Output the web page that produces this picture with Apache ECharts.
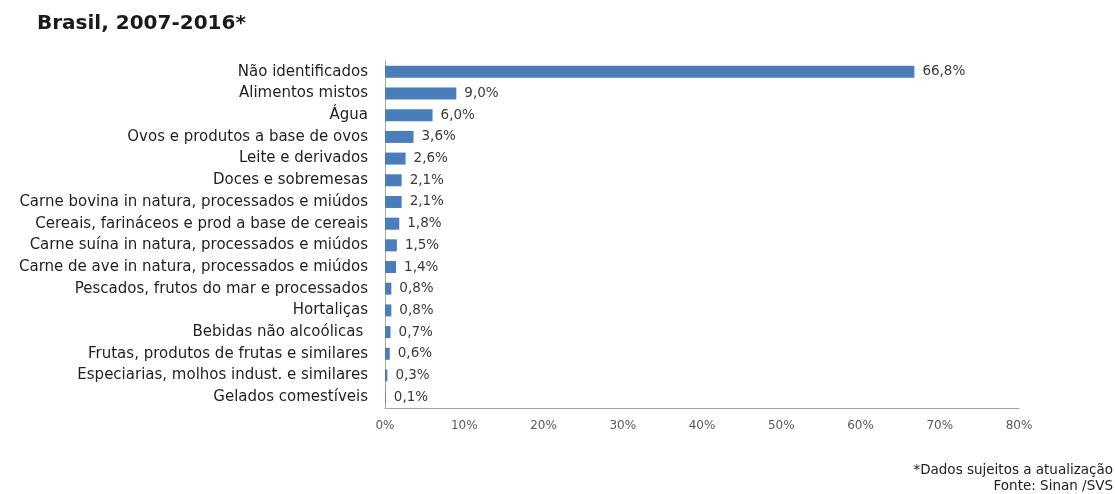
<!DOCTYPE html>
<html>
<head>
<meta charset="utf-8">
<script src="https://cdn.jsdelivr.net/npm/echarts@6/dist/echarts.min.js"></script>
<style>
  html, body { margin: 0; padding: 0; background: #ffffff; }
  #chart { width: 1115px; height: 494px; }
</style>
</head>
<body>
<div id="chart"></div>
<script>
// Alimentos incriminados em surtos, Brasil 2007-2016 (%)
const categories = [
  'Não identificados',
  'Alimentos mistos',
  'Água',
  'Ovos e produtos a base de ovos',
  'Leite e derivados',
  'Doces e sobremesas',
  'Carne bovina in natura, processados e miúdos',
  'Cereais, farináceos e prod a base de cereais',
  'Carne suína in natura, processados e miúdos',
  'Carne de ave in natura, processados e miúdos',
  'Pescados, frutos do mar e processados',
  'Hortaliças',
  'Bebidas não alcoólicas ',
  'Frutas, produtos de frutas e similares',
  'Especiarias, molhos indust. e similares',
  'Gelados comestíveis'
];
const percentages = [66.8, 9.0, 6.0, 3.6, 2.6, 2.1, 2.1, 1.8, 1.5, 1.4, 0.8, 0.8, 0.7, 0.6, 0.3, 0.1];
const xTicks = [0, 10, 20, 30, 40, 50, 60, 70, 80];
const footnotes = ['*Dados sujeitos a atualização', 'Fonte: Sinan /SVS'];

const fontFamily = 'DejaVu Sans, Verdana, sans-serif';
const chart = echarts.init(document.getElementById('chart'), null, { renderer: 'canvas' });

chart.setOption({
  animation: false,
  backgroundColor: '#ffffff',
  title: {
    text: 'Brasil, 2007-2016*',
    left: 32, top: 9,
    textStyle: { fontFamily, fontSize: 20, fontWeight: 'bold', color: '#1a1a1a' }
  },
  graphic: footnotes.map((line, i) => ({
    type: 'text',
    right: 2,
    top: 463 + i * 16,
    style: { text: line, fontFamily, fontSize: 13.5, fill: '#222222', textAlign: 'right' }
  })),
  grid: { left: 385, right: 96, top: 61, bottom: 86, containLabel: false },
  xAxis: {
    type: 'value',
    min: xTicks[0],
    max: xTicks[xTicks.length - 1],
    interval: 10,
    splitLine: { show: false },
    axisLine: { show: true, lineStyle: { color: '#a6a6a6', width: 1 } },
    axisTick: { show: false },
    axisLabel: {
      margin: 12,
      fontFamily, fontSize: 12, color: '#595959',
      formatter: v => v + '%'
    }
  },
  yAxis: {
    type: 'category',
    inverse: true,
    data: categories,
    axisLine: { show: true, lineStyle: { color: '#a6a6a6', width: 1 } },
    axisTick: { show: false },
    axisLabel: { margin: 17, fontFamily, fontSize: 15, color: '#1f1f1f' }
  },
  series: [{
    type: 'bar',
    data: percentages,
    barWidth: 12,
    itemStyle: { color: '#4a7ebb' },
    label: {
      show: true,
      position: 'right',
      distance: 8,
      fontFamily, fontSize: 13.5, color: '#3a3a3a',
      formatter: p => p.value.toFixed(1).replace('.', ',') + '%'
    }
  }]
});
</script>
</body>
</html>
